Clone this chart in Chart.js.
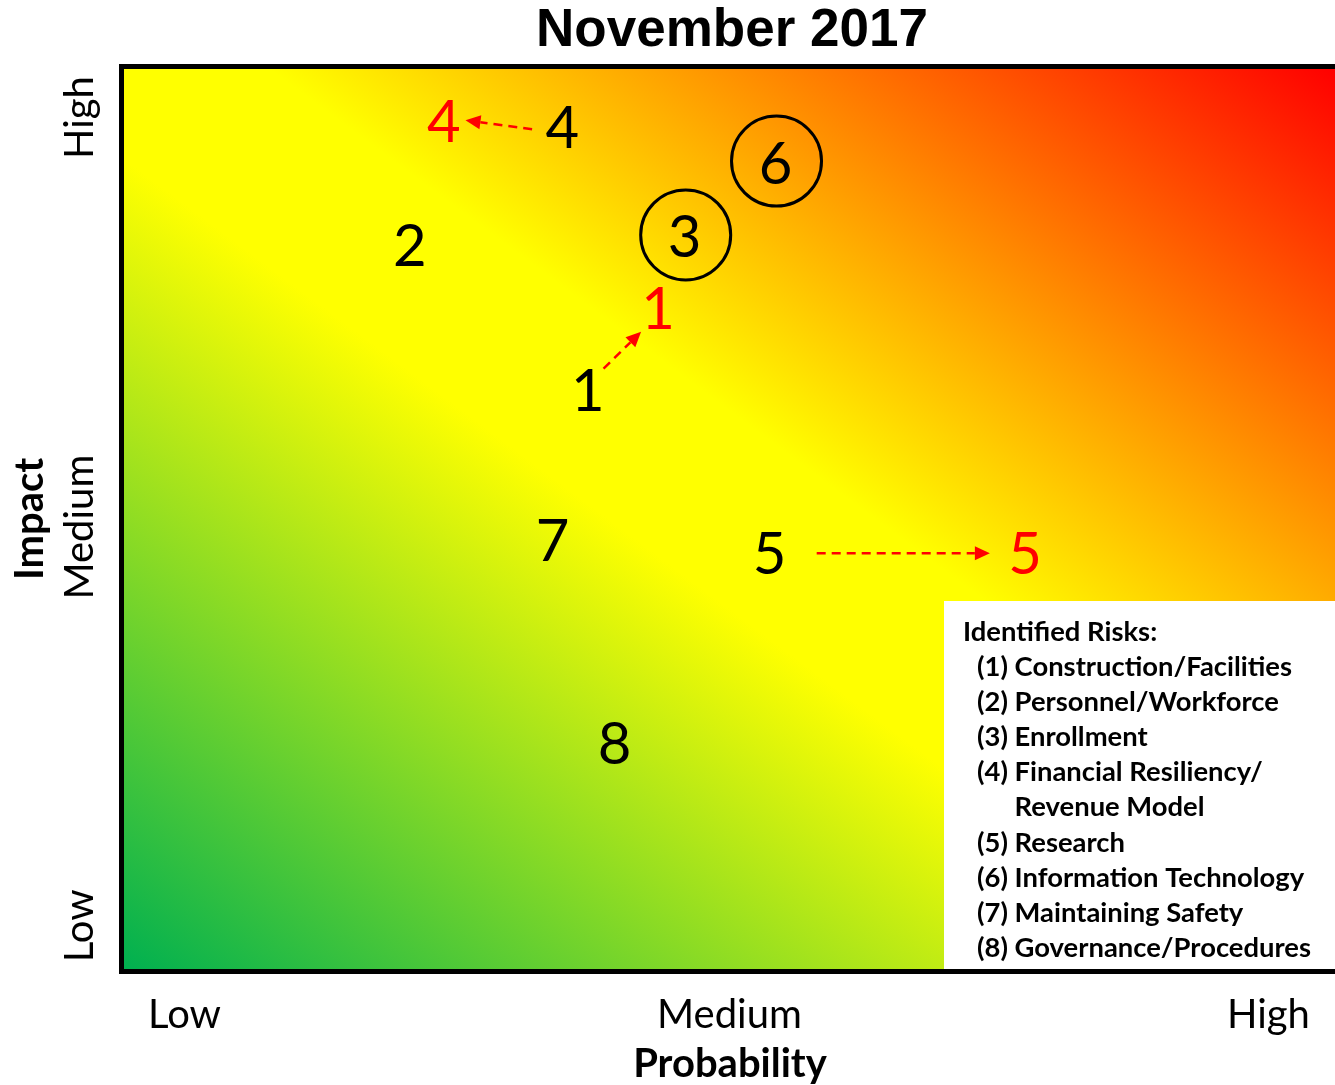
<!DOCTYPE html>
<html>
<head>
<meta charset="utf-8">
<title>November 2017 Risk Map</title>
<script src="https://cdn.jsdelivr.net/npm/chart.js@4.4.0/dist/chart.umd.min.js"></script>
<style>
  html, body { margin: 0; padding: 0; background: #ffffff; }
  canvas { display: block; }
</style>
</head>
<body>
<canvas id="riskMap" width="1335" height="1085"></canvas>
<script>
// Current position of each risk (probability, impact on a 0-10 scale)
const currentLabels = ['4', '2', '3', '6', '1', '7', '5', '8'];
const currentX = [3.62, 2.36, 4.63, 5.38, 3.83, 3.54, 5.33, 4.05];
const currentY = [9.36, 8.05, 8.14, 8.96, 6.43, 4.77, 4.62, 2.51];

// Risks that moved since the previous review
const movedLabels = ['4', '1', '5'];
const movedX = [2.64, 4.41, 7.44];
const movedY = [9.42, 7.34, 4.62];

// Risks highlighted with a ring
const circledLabels = ['3', '6'];

// Movement arrows: start and end in data units
const arrowFromX = [3.37, 3.96, 5.72];
const arrowFromY = [9.33, 6.67, 4.62];
const arrowToX = [2.82, 4.27, 7.15];
const arrowToY = [9.43, 7.08, 4.62];

// Axis level labels
const xLevelLabels = ['Low', 'Medium', 'High'];
const xLevelValues = [0.5, 5.0, 9.45];
const yLevelLabels = ['High', 'Medium', 'Low'];
const yLevelValues = [9.46, 4.91, 0.48];

const legendTitle = 'Identified Risks:';
const legendItems = [
  ['(1)', 'Construction/Facilities'],
  ['(2)', 'Personnel/Workforce'],
  ['(3)', 'Enrollment'],
  ['(4)', 'Financial Resiliency/'],
  ['', 'Revenue Model'],
  ['(5)', 'Research'],
  ['(6)', 'Information Technology'],
  ['(7)', 'Maintaining Safety'],
  ['(8)', 'Governance/Procedures']
];

const toPoints = (xs, ys) => xs.map((x, i) => ({ x: x, y: ys[i] }));

const heatMapPlugin = {
  id: 'heatMap',
  beforeDraw(chart) {
    const { ctx, chartArea: a } = chart;
    ctx.save();
    ctx.fillStyle = '#ffffff';
    ctx.fillRect(0, 0, chart.width, chart.height);
    // Gradient stretched with the plot box so the yellow band follows its diagonal
    ctx.translate(a.left, a.bottom);
    ctx.scale(a.right - a.left, -(a.bottom - a.top));
    const g = ctx.createLinearGradient(0, 0, 1, 1);
    g.addColorStop(0, '#00b050');
    g.addColorStop(0.45, '#ffff00');
    g.addColorStop(0.56, '#ffff00');
    g.addColorStop(1, '#ff0000');
    ctx.fillStyle = g;
    ctx.fillRect(0, 0, 1, 1);
    ctx.restore();
  },
  afterDatasetsDraw(chart) {
    const { ctx, chartArea: a, scales } = chart;
    const sx = scales.x, sy = scales.y;
    ctx.save();

    // movement arrows
    ctx.strokeStyle = '#ff0000';
    ctx.fillStyle = '#ff0000';
    ctx.lineWidth = 2.5;
    arrowFromX.forEach((fx, i) => {
      const x1 = sx.getPixelForValue(fx), y1 = sy.getPixelForValue(arrowFromY[i]);
      const x2 = sx.getPixelForValue(arrowToX[i]), y2 = sy.getPixelForValue(arrowToY[i]);
      const ang = Math.atan2(y2 - y1, x2 - x1);
      const head = 15;
      ctx.setLineDash([9, 6]);
      ctx.beginPath();
      ctx.moveTo(x1, y1);
      ctx.lineTo(x2 - head * Math.cos(ang), y2 - head * Math.sin(ang));
      ctx.stroke();
      ctx.setLineDash([]);
      ctx.beginPath();
      ctx.moveTo(x2, y2);
      ctx.lineTo(x2 - head * Math.cos(ang) + 7 * Math.sin(ang), y2 - head * Math.sin(ang) - 7 * Math.cos(ang));
      ctx.lineTo(x2 - head * Math.cos(ang) - 7 * Math.sin(ang), y2 - head * Math.sin(ang) + 7 * Math.cos(ang));
      ctx.closePath();
      ctx.fill();
    });

    // risk numbers
    ctx.font = '58px Lato';
    ctx.textAlign = 'center';
    ctx.textBaseline = 'alphabetic';
    chart.data.datasets.forEach((ds, di) => {
      const meta = chart.getDatasetMeta(di);
      ctx.fillStyle = ds.labelColor;
      meta.data.forEach((pt, i) => {
        const lbl = ds.pointLabels[i];
        ctx.fillText(lbl, pt.x, pt.y + 21);
        if (ds.ringed && circledLabels.includes(lbl)) {
          ctx.beginPath();
          ctx.lineWidth = 3;
          ctx.strokeStyle = '#000000';
          ctx.arc(pt.x + 1, pt.y - 1.5, 45, 0, Math.PI * 2);
          ctx.stroke();
        }
      });
    });

    // legend panel
    const lx = 944, ly = 601;
    ctx.fillStyle = '#ffffff';
    ctx.fillRect(lx, ly, a.right - lx, a.bottom - ly);
    ctx.fillStyle = '#000000';
    ctx.textAlign = 'left';
    ctx.font = 'bold 27.4px Lato';
    ctx.fillText(legendTitle, 963, 641);
    const prefixW = ctx.measureText('(4) ').width;
    legendItems.forEach((it, i) => {
      const y = 676 + i * 35.1;
      if (it[0]) ctx.fillText(it[0], 977, y);
      ctx.fillText(it[1], 977 + prefixW, y);
    });

    // plot frame (left, top, bottom)
    ctx.strokeStyle = '#000000';
    ctx.lineWidth = 5;
    ctx.beginPath();
    ctx.moveTo(chart.width + 5, a.top - 2.5);
    ctx.lineTo(a.left - 2.5, a.top - 2.5);
    ctx.lineTo(a.left - 2.5, a.bottom + 2.5);
    ctx.lineTo(chart.width + 5, a.bottom + 2.5);
    ctx.stroke();

    // axis level labels
    ctx.fillStyle = '#000000';
    ctx.font = '40px Lato';
    ctx.textAlign = 'center';
    ctx.textBaseline = 'middle';
    xLevelLabels.forEach((t, i) => {
      ctx.fillText(t, sx.getPixelForValue(xLevelValues[i]), 1015);
    });
    yLevelLabels.forEach((t, i) => {
      ctx.save();
      ctx.translate(80, sy.getPixelForValue(yLevelValues[i]));
      ctx.rotate(-Math.PI / 2);
      ctx.fillText(t, 0, 0);
      ctx.restore();
    });

    // axis titles
    ctx.font = 'bold 40px Lato';
    ctx.fillText('Probability', 730, 1064);
    ctx.save();
    ctx.translate(30, 519);
    ctx.rotate(-Math.PI / 2);
    ctx.fillText('Impact', 0, 0);
    ctx.restore();

    // chart title
    ctx.font = 'bold 53px "Liberation Sans", Arial, sans-serif';
    ctx.fillText('November 2017', 732, 31);
    ctx.restore();
  }
};

new Chart(document.getElementById('riskMap'), {
  type: 'scatter',
  data: {
    datasets: [
      {
        label: 'Current',
        data: toPoints(currentX, currentY),
        pointLabels: currentLabels,
        labelColor: '#000000',
        ringed: true,
        pointRadius: 0,
        pointHoverRadius: 0
      },
      {
        label: 'Moved',
        data: toPoints(movedX, movedY),
        pointLabels: movedLabels,
        labelColor: '#ff0000',
        ringed: false,
        pointRadius: 0,
        pointHoverRadius: 0
      }
    ]
  },
  options: {
    responsive: false,
    animation: false,
    events: [],
    layout: { padding: { left: 124, top: 69, right: 0, bottom: 116 } },
    plugins: { legend: { display: false }, tooltip: { enabled: false } },
    scales: {
      x: { type: 'linear', min: 0, max: 10, display: false },
      y: { type: 'linear', min: 0, max: 10, display: false }
    }
  },
  plugins: [heatMapPlugin]
});
</script>
</body>
</html>
